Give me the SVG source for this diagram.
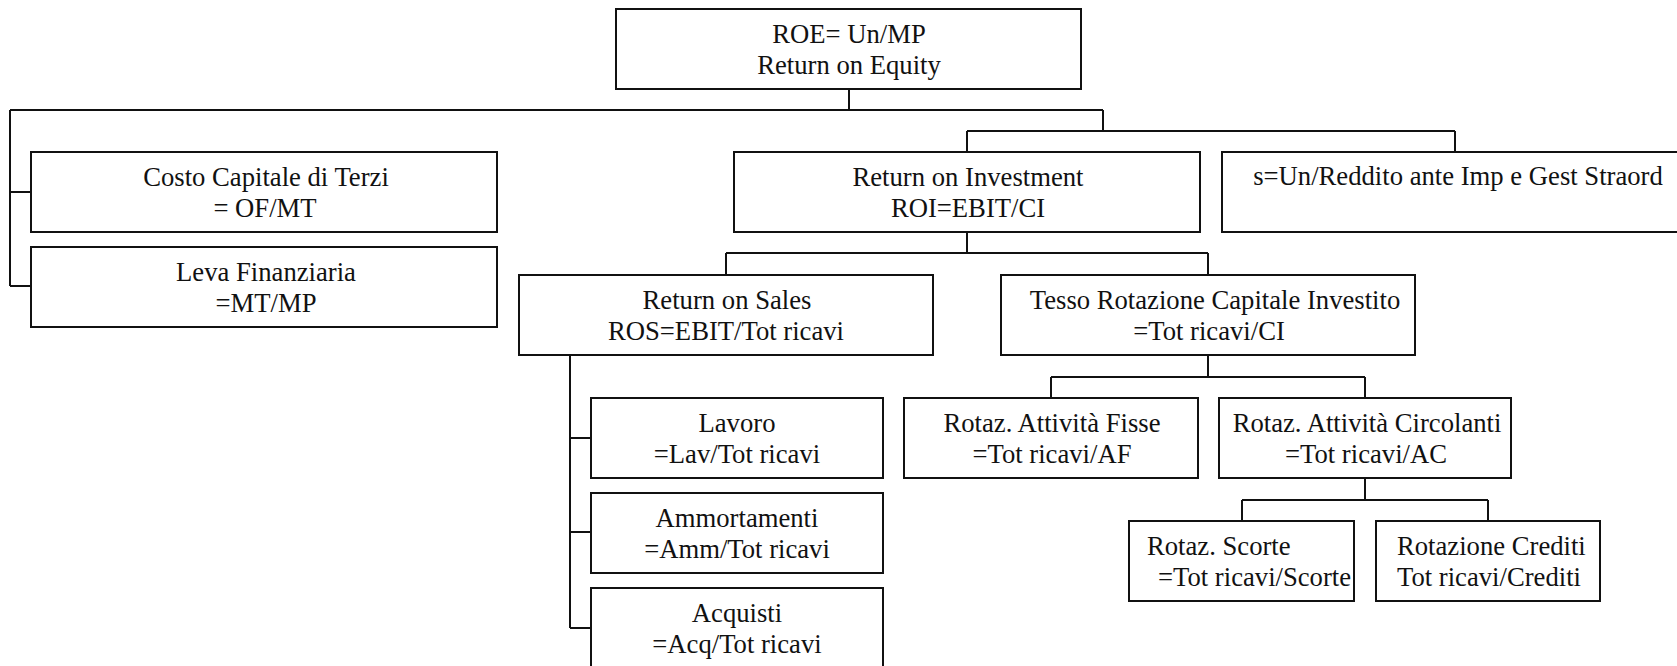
<svg xmlns="http://www.w3.org/2000/svg" width="1677" height="666" viewBox="0 0 1677 666">
<style>
.b{fill:#fff;stroke:#111;stroke-width:2}
.c{fill:none;stroke:#111;stroke-width:2}
text{font-family:"Liberation Serif","Times New Roman",serif;font-size:26.67px;fill:#111;text-anchor:middle}
.l{text-anchor:start}
</style>
<rect width="1677" height="666" fill="#fff"/>
<g id="connectors" class="c">
<path d="M849,89V110M10,110H1103M10,110V286M10,192H31M10,286H31"/>
<path d="M1103,110V131M967,131H1455M967,131V152M1455,131V152"/>
<path d="M967,232V253M726,253H1208M726,253V275M1208,253V275"/>
<path d="M570,355V628M570,438H591M570,532H591M570,628H591"/>
<path d="M1208,355V377M1051,377H1365M1051,377V398M1365,377V398"/>
<path d="M1365,478V500M1242,500H1488M1242,500V521M1488,500V521"/>
</g>
<g id="roe"><rect class="b" x="616" y="9" width="465" height="80"/><text x="849" y="43">ROE= Un/MP</text><text x="849" y="74">Return on Equity</text></g>
<g id="costo"><rect class="b" x="31" y="152" width="466" height="80"/><text x="266" y="186">Costo Capitale di Terzi</text><text x="265" y="217">= OF/MT</text></g>
<g id="leva"><rect class="b" x="31" y="247" width="466" height="80"/><text x="266" y="281">Leva Finanziaria</text><text x="266" y="312">=MT/MP</text></g>
<g id="roi"><rect class="b" x="734" y="152" width="466" height="80"/><text x="968" y="186">Return on Investment</text><text x="968" y="217">ROI=EBIT/CI</text></g>
<g id="s"><rect class="b" x="1222" y="152" width="460" height="80"/><text x="1458" y="185">s=Un/Reddito ante Imp e Gest Straord</text></g>
<g id="ros"><rect class="b" x="519" y="275" width="414" height="80"/><text x="727" y="309">Return on Sales</text><text x="726" y="340">ROS=EBIT/Tot ricavi</text></g>
<g id="tesso"><rect class="b" x="1001" y="275" width="414" height="80"/><text x="1215" y="309">Tesso Rotazione Capitale Investito</text><text x="1209" y="340">=Tot ricavi/CI</text></g>
<g id="lavoro"><rect class="b" x="591" y="398" width="292" height="80"/><text x="737" y="432">Lavoro</text><text x="737" y="463">=Lav/Tot ricavi</text></g>
<g id="ammortamenti"><rect class="b" x="591" y="493" width="292" height="80"/><text x="737" y="527">Ammortamenti</text><text x="737" y="558">=Amm/Tot ricavi</text></g>
<g id="acquisti"><rect class="b" x="591" y="588" width="292" height="90"/><text x="737" y="622">Acquisti</text><text x="737" y="653">=Acq/Tot ricavi</text></g>
<g id="fisse"><rect class="b" x="904" y="398" width="294" height="80"/><text x="1052" y="432">Rotaz. Attività Fisse</text><text x="1052" y="463">=Tot ricavi/AF</text></g>
<g id="circolanti"><rect class="b" x="1219" y="398" width="292" height="80"/><text x="1367" y="432">Rotaz. Attività Circolanti</text><text x="1366" y="463">=Tot ricavi/AC</text></g>
<g id="scorte"><rect class="b" x="1129" y="521" width="225" height="80"/><text class="l" x="1147" y="555">Rotaz. Scorte</text><text class="l" x="1158" y="586">=Tot ricavi/Scorte</text></g>
<g id="crediti"><rect class="b" x="1376" y="521" width="224" height="80"/><text class="l" x="1397" y="555">Rotazione Crediti</text><text class="l" x="1397" y="586">Tot ricavi/Crediti</text></g>
</svg>
